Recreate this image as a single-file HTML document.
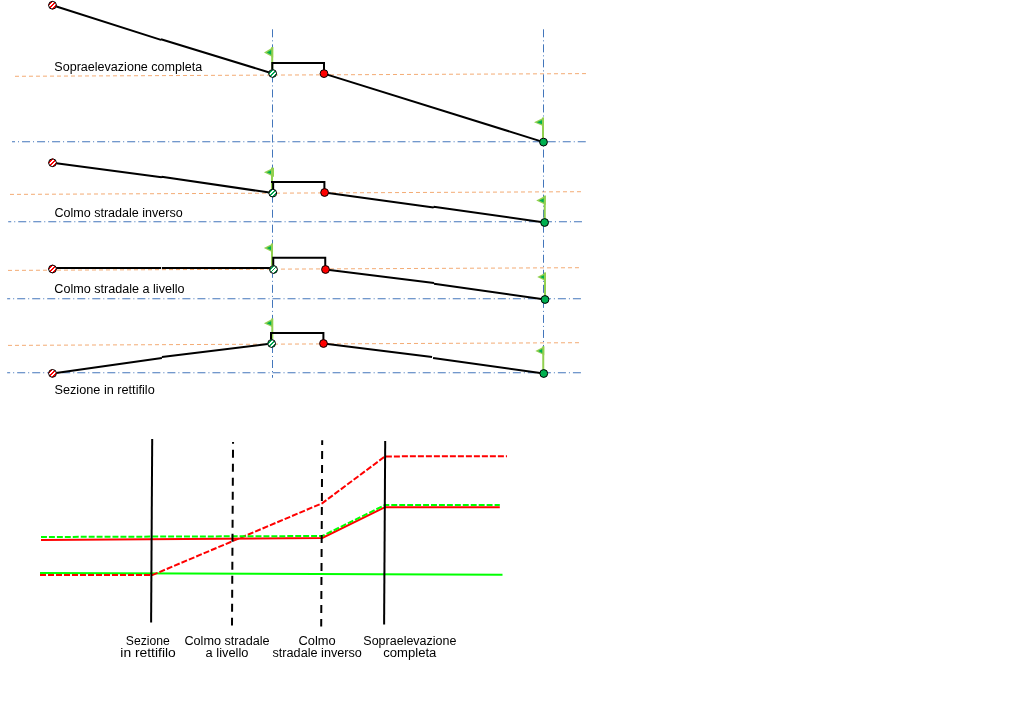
<!DOCTYPE html>
<html lang="it">
<head>
<meta charset="utf-8">
<title>Sopraelevazione</title>
<style>
html,body{margin:0;padding:0;background:#fff;}
body{width:1024px;height:720px;overflow:hidden;position:relative;}
svg{position:absolute;left:0;top:0;display:block;}
text{font-family:"Liberation Sans",sans-serif;font-size:12px;fill:#000;}
.blue{stroke:#4376bb;stroke-width:1;stroke-dasharray:8 3 1 3;fill:none;}
.org{stroke:#f2a264;stroke-width:0.9;stroke-dasharray:4 3;fill:none;}
.blk{stroke:#000;stroke-width:2;fill:none;stroke-linejoin:miter;}
.pole{stroke:#92d050;stroke-width:2;fill:none;}
.flag{stroke:#92d050;stroke-width:1.6;fill:#00b050;stroke-linejoin:miter;}
.c{stroke:#000;stroke-width:1;}
</style>
</head>
<body>
<svg width="1024" height="720" viewBox="0 0 1024 720">
<defs>
<clipPath id="cc"><circle r="3.9"/></clipPath>
<g id="nr"><circle r="3.9" fill="#fff" stroke="none"/><g clip-path="url(#cc)" transform="rotate(-45)" fill="#f00" stroke="none" shape-rendering="crispEdges"><rect x="-5" y="-0.7" width="10" height="1.41"/><rect x="-5" y="-3.53" width="10" height="1.41"/><rect x="-5" y="2.13" width="10" height="1.41"/></g><circle r="3.9" fill="none"/></g>
<g id="ng"><circle r="3.9" fill="#fff" stroke="none"/><g clip-path="url(#cc)" transform="rotate(-45)" fill="#00a84f" stroke="none" shape-rendering="crispEdges"><rect x="-5" y="-0.7" width="10" height="1.41"/><rect x="-5" y="-3.53" width="10" height="1.41"/><rect x="-5" y="2.13" width="10" height="1.41"/></g><circle r="3.9" fill="none"/></g>
</defs>

<!-- orange reference lines -->
<g class="org">
<line x1="15" y1="76.3" x2="587" y2="73.6"/>
<line x1="10" y1="194.4" x2="582" y2="191.7"/>
<line x1="8" y1="270.4" x2="580" y2="267.7"/>
<line x1="8" y1="345.4" x2="580" y2="342.7"/>
</g>

<!-- blue axis lines -->
<g class="blue">
<line x1="272.5" y1="29.3" x2="272.5" y2="377.75" stroke-dasharray="8.03 3 1 3"/>
<line x1="543.5" y1="29.3" x2="543.5" y2="377.75" stroke-dasharray="8.03 3 1 3"/>
<g stroke-dasharray="8.02 3 1 3" stroke-dashoffset="5">
<line x1="12" y1="141.75" x2="586" y2="141.75"/>
<line x1="8.2" y1="221.75" x2="582" y2="221.75"/>
<line x1="7.15" y1="298.75" x2="581" y2="298.75"/>
<line x1="7.15" y1="372.75" x2="581" y2="372.75"/>
</g>
</g>

<!-- flags -->
<g id="flags">
<path fill="#92d050" d="M273.2 47L264 52.4L273.2 57.5Z"/><path fill="#00b050" d="M272.00 49.62L266.80 52.4L272.00 55.18Z"/><path class="pole" d="M272.2 73V47"/>
<path fill="#92d050" d="M274 167.4L263.9 172.2L274 177Z"/><path fill="#00b050" d="M272.80 169.66L266.70 172.2L272.80 174.74Z"/><path class="pole" d="M272 193V167.4"/>
<path fill="#92d050" d="M272.9 243.4L263.9 248.1L272.9 252.5Z"/><path fill="#00b050" d="M271.70 245.69L266.70 248.1L271.70 250.51Z"/><path class="pole" d="M272 269V243.4"/>
<path fill="#92d050" d="M273 318.4L263.9 323.2L273 327.5Z"/><path fill="#00b050" d="M271.80 320.79L266.70 323.2L271.80 325.61Z"/><path class="pole" d="M272.3 343V318.4"/>
<path fill="#92d050" d="M544 117.5L534 122.2L544 126.5Z"/><path fill="#00b050" d="M542.80 119.81L536.80 122.2L542.80 124.59Z"/><path class="pole" d="M543 142V117.5"/>
<path fill="#92d050" d="M545.75 195.6L536.25 200.5L545.75 205Z"/><path fill="#00b050" d="M544.55 198.01L539.05 200.5L544.55 202.99Z"/><path class="pole" d="M544.75 222V195.6"/>
<path fill="#92d050" d="M546 272.5L537.25 277L546 281.25Z"/><path fill="#00b050" d="M544.80 274.68L540.05 277L544.80 279.32Z"/><path class="pole" d="M545 299V272.5"/>
<path fill="#92d050" d="M544.25 346.25L535.4 351L544.25 355.25Z"/><path fill="#00b050" d="M543.05 348.62L538.20 351L543.05 353.38Z"/><path class="pole" d="M543.25 373V346.25"/>
</g>

<!-- road profile lines -->
<g class="blk">
<path d="M52.5 5.25L161 39.9M161 39.2L272.6 73.5"/>
<path d="M272.3 73.5V63H324V73.5"/>
<path d="M324 73.6L543.5 142.1"/>

<path d="M52.5 162.75L161.6 177.35M161.6 176.7L272.75 193.1"/>
<path d="M273.15 193V181.9"/><path d="M271 181.9H324.4V192.5"/>
<path d="M324.6 192.5L433.6 207.4M433.6 206.8L544.6 222.5"/>

<path d="M52.5 268H161.1M161.95 268H273"/>
<path d="M273.25 269V257.8H325.25V269"/>
<path d="M325.5 269.5L434 283.1M434 283.8L545 299.5"/>

<path d="M52.5 373.4L161.9 358M161.9 357.1L271.6 343.5"/>
<path d="M271 343V332.9H323.4V343"/>
<path d="M323.5 343.5L432.05 357.1M433.05 357.95L543.75 373.5"/>
</g>

<!-- nodes -->
<g class="c">
<use href="#nr" x="52.5" y="5.25"/>
<use href="#nr" x="52.5" y="162.75"/>
<use href="#nr" x="52.5" y="269"/>
<use href="#nr" x="52.5" y="373.4"/>
<use href="#ng" x="272.6" y="73.5"/>
<use href="#ng" x="272.75" y="193.1"/>
<use href="#ng" x="273.5" y="269.5"/>
<use href="#ng" x="271.6" y="343.5"/>
<circle cx="324" cy="73.6" r="3.9" fill="#f00"/>
<circle cx="324.6" cy="192.5" r="3.9" fill="#f00"/>
<circle cx="325.5" cy="269.5" r="3.9" fill="#f00"/>
<circle cx="323.5" cy="343.5" r="3.9" fill="#f00"/>
<circle cx="543.5" cy="142.1" r="3.9" fill="#00b050"/>
<circle cx="544.6" cy="222.5" r="3.9" fill="#00b050"/>
<circle cx="545" cy="299.5" r="3.9" fill="#00b050"/>
<circle cx="543.75" cy="373.5" r="3.9" fill="#00b050"/>
</g>

<!-- section labels -->
<text x="54.3" y="70.8" textLength="148" lengthAdjust="spacingAndGlyphs">Sopraelevazione completa</text>
<text x="54.4" y="216.8" textLength="128.4" lengthAdjust="spacingAndGlyphs">Colmo stradale inverso</text>
<text x="54.3" y="292.75" textLength="130.3" lengthAdjust="spacingAndGlyphs">Colmo stradale a livello</text>
<text x="54.5" y="393.8" textLength="100.2" lengthAdjust="spacingAndGlyphs">Sezione in rettifilo</text>

<!-- diagram -->
<g fill="none" stroke-width="2">
<path d="M40 573L502.5 574.75" stroke="#0f0"/>
<path d="M40 575.1L152.3 575.1L322.1 503.3L385 456.4L507 456.2" stroke="#f00" stroke-width="2" stroke-dasharray="6 2"/>
<path d="M41 540L322.25 538L385 507.2H499.8" stroke="#f00"/>
<path d="M41 537L322.25 536L385 505H499.8" stroke="#0f0" stroke-dasharray="5.95 1.995"/>
<path d="M152.2 439.1L151.1 622.5" stroke="#000"/>
<path d="M385.2 441.1L384.1 624.4" stroke="#000"/>
<path d="M233.05 442L232 625.6" stroke="#000" stroke-dasharray="8 6" stroke-dashoffset="6.25"/>
<path d="M322.2 440.25L321.2 626.4" stroke="#000" stroke-dasharray="8 6" stroke-dashoffset="3.2"/>
</g>

<!-- diagram labels -->
<text x="125.8" y="645.1" textLength="44" lengthAdjust="spacingAndGlyphs">Sezione</text>
<text x="120.3" y="657.3" textLength="55.5" lengthAdjust="spacingAndGlyphs">in rettifilo</text>
<text x="184.4" y="645.1" textLength="85.2" lengthAdjust="spacingAndGlyphs">Colmo stradale</text>
<text x="205.6" y="657.3" textLength="42.8" lengthAdjust="spacingAndGlyphs">a livello</text>
<text x="298.5" y="645.1" textLength="37.2" lengthAdjust="spacingAndGlyphs">Colmo</text>
<text x="272.5" y="657.3" textLength="89.4" lengthAdjust="spacingAndGlyphs">stradale inverso</text>
<text x="363.3" y="645.1" textLength="93.2" lengthAdjust="spacingAndGlyphs">Sopraelevazione</text>
<text x="383.2" y="657.3" textLength="53.2" lengthAdjust="spacingAndGlyphs">completa</text>
</svg>
</body>
</html>
